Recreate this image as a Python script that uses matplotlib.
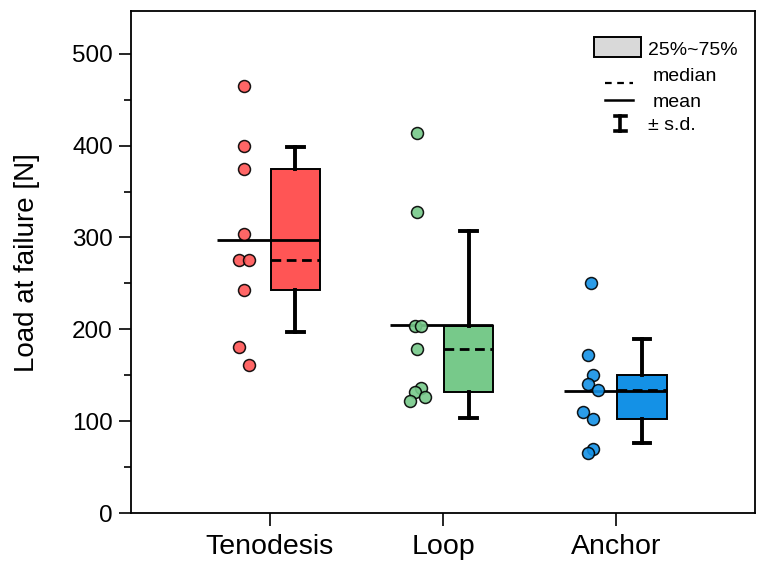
import numpy as np
import matplotlib
matplotlib.use("Agg")
import matplotlib.pyplot as plt
from matplotlib.ticker import MultipleLocator

plt.rcParams['font.family'] = ['Liberation Sans', 'DejaVu Sans']

categories = ["Tenodesis", "Loop", "Anchor"]
tenodesis = [465, 400, 374, 304, 276, 276, 243, 181, 161]
loop = [414, 328, 204, 204, 179, 136, 132, 126, 122]
anchor = [250, 172, 150, 141, 134, 110, 103, 70, 66]
series = [tenodesis, loop, anchor]
# small horizontal jitter of the scatter points (pixels in the original)
jitter_px = [
    [0, 0, 0, 0, -5, 5, 0, -5, 5],
    [0, 0, -2, 4, 0, 4, -2, 8, -7],
    [0, -3, 2, -3, 7, -8, 2, 2, -3],
]
colors = ["#FF5555", "#77C98A", "#1491E6"]
y_ticks = [0, 100, 200, 300, 400, 500]

fig = plt.figure(figsize=(7.66, 5.66), dpi=100)
ax = fig.add_axes([131 / 766, 52.7 / 566, 624 / 766, 502 / 566])

px = 173.3  # pixels per category unit
pt_off = -0.148
box_off = 0.148
box_w = 0.284

stats = []
for i, vals in enumerate(series):
    v = np.array(vals, dtype=float)
    pos = i + 1
    m = v.mean()
    sd = v.std(ddof=1)
    q1, med, q3 = np.percentile(v, [25, 50, 75])
    stats.append(dict(med=med, q1=q1, q3=q3, whislo=m - sd, whishi=m + sd,
                      mean=m, fliers=[], label=categories[i]))
    xs = pos + pt_off + np.array(jitter_px[i]) / px
    ax.scatter(xs, v, s=74, facecolor=colors[i], edgecolor='black',
               linewidth=1.1, zorder=4, alpha=0.9)

positions = [i + 1 + box_off for i in range(3)]
bp = ax.bxp(stats, positions=positions, widths=box_w, patch_artist=True,
            showfliers=False, showmeans=False,
            boxprops=dict(linewidth=1.4, edgecolor='black'),
            whiskerprops=dict(linewidth=2.8, color='black'),
            capprops=dict(linewidth=2.8, color='black'),
            medianprops=dict(linewidth=2.0, color='black', linestyle=(0, (3.5, 2))),
            capwidths=0.096, manage_ticks=False)
for patch, c in zip(bp['boxes'], colors):
    patch.set_facecolor(c)
    patch.set_zorder(2)
for k in ('whiskers', 'caps', 'medians'):
    for l in bp[k]:
        l.set_zorder(3)

for i, s in enumerate(stats):
    pos = i + 1
    ax.hlines(s['mean'], pos - 0.303, pos + box_off + box_w / 2,
              color='black', linewidth=2.0, zorder=3.5)

ax.set_xlim(0.2, 3.8)
ax.set_ylim(0, 546)
ax.set_xticks([1, 2, 3])
ax.set_xticklabels(categories, fontsize=20.5)
ax.set_yticks(y_ticks)
ax.set_yticklabels([str(t) for t in y_ticks], fontsize=17.5)
ax.yaxis.set_minor_locator(MultipleLocator(50))
ax.tick_params(axis='both', which='major', direction='out', length=9, width=1.2,
               top=False, right=False)
ax.tick_params(axis='x', which='major', pad=6)
ax.tick_params(axis='y', which='major', pad=4)
ax.tick_params(axis='y', which='minor', direction='out', length=5, width=1.2)
ax.tick_params(axis='x', which='minor', bottom=False)
for sp in ax.spines.values():
    sp.set_linewidth(1.3)
ax.set_ylabel("Load at failure [N]", fontsize=20, labelpad=23)

T = ax.transAxes
ax.add_patch(plt.Rectangle((0.742, 0.909), 0.075, 0.040, transform=T,
                           facecolor='#D9D9D9', edgecolor='black', linewidth=1.4,
                           zorder=5))
ax.text(0.8285, 0.913, "25%~75%", transform=T, fontsize=14, va='baseline', ha='left')
ax.plot([0.760, 0.8045], [0.858, 0.858], transform=T, color='black',
        linewidth=1.6, linestyle=(0, (3, 2.5)))
ax.text(0.8365, 0.861, "median", transform=T, fontsize=14, va='baseline', ha='left')
ax.plot([0.760, 0.8045], [0.8233, 0.8233], transform=T, color='black', linewidth=1.8)
ax.text(0.8365, 0.8088, "mean", transform=T, fontsize=14, va='baseline', ha='left')
ax.plot([0.7837, 0.7837], [0.7616, 0.791], transform=T, color='black', linewidth=2.6)
ax.plot([0.7749, 0.7925], [0.791, 0.791], transform=T, color='black', linewidth=2.6)
ax.plot([0.7749, 0.7925], [0.7616, 0.7616], transform=T, color='black', linewidth=2.6)
ax.text(0.8285, 0.7635, "± s.d.", transform=T, fontsize=14, va='baseline', ha='left')

fig.savefig("out.png", dpi=100)
